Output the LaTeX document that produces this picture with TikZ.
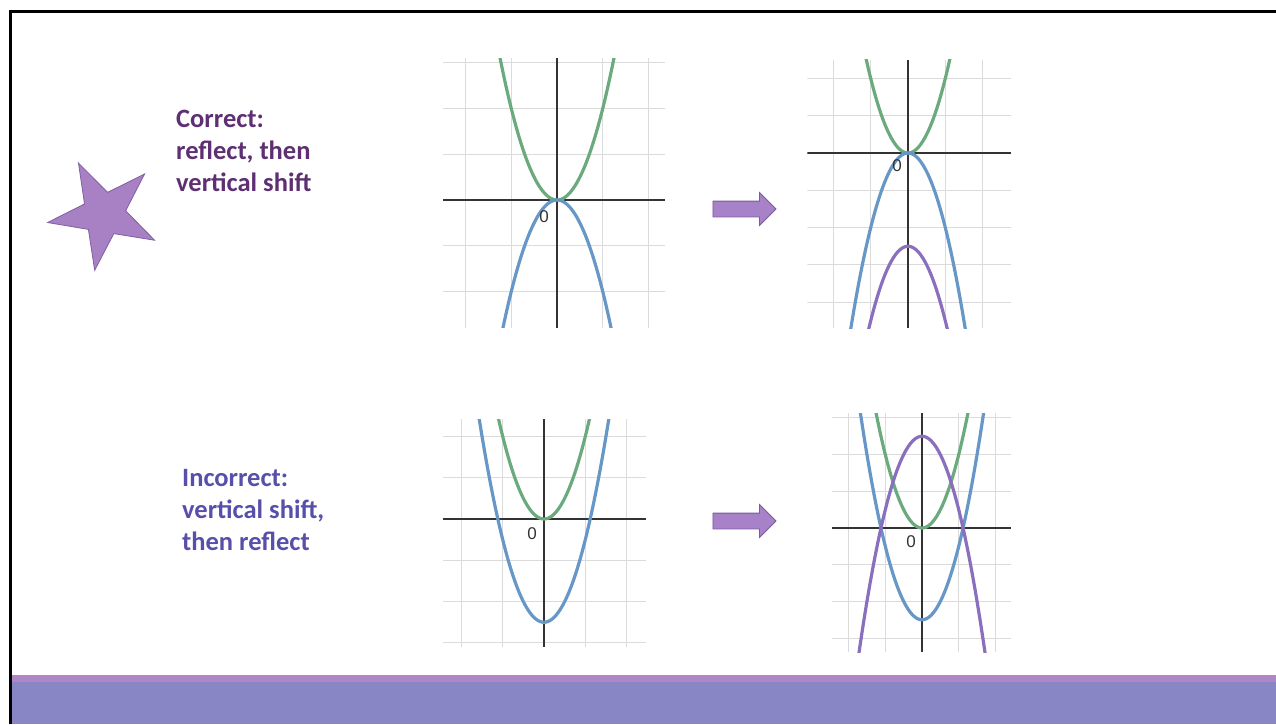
\documentclass[tikz,border=0pt]{standalone}
\usepackage{fontspec}
\setmainfont{Carlito}
\newfontfamily\axisfont{Liberation Sans}
\usetikzlibrary{shapes.geometric, shapes.arrows, positioning}

\definecolor{curvegreen}{HTML}{6BAA7C}
\definecolor{curveblue}{HTML}{6797C6}
\definecolor{curvepurple}{HTML}{8B6FBF}
\definecolor{axisgray}{HTML}{333333}
\definecolor{starfill}{HTML}{A781C4}
\definecolor{staredge}{HTML}{7F5F9F}
\definecolor{arrowfill}{HTML}{A882C8}
\definecolor{arrowedge}{HTML}{7A5A99}
\definecolor{correctpurple}{HTML}{5E2F72}
\definecolor{incorrectblue}{HTML}{584FAA}
\definecolor{bandtop}{HTML}{AF86C6}
\definecolor{bandmain}{HTML}{8986C6}

\begin{document}
\begin{tikzpicture}[
  x=1pt, y=-1pt,
  gridline/.style={draw=gray!28, line width=1pt},
  axisline/.style={draw=axisgray, line width=2.2pt},
  graphcurve/.style={line width=3.2pt, smooth, samples=80},
  notetext/.style={font=\bfseries\fontsize{26.5}{32}\selectfont, align=left, anchor=north west, inner sep=0pt},
  blockarrow/.style={single arrow, draw=arrowedge, fill=arrowfill, line width=0.8pt, minimum height=63pt, inner xsep=0pt, inner ysep=7.5pt, single arrow head extend=8.5pt},
  zerolabel/.style={font=\axisfont\fontsize{17}{17}\selectfont, text=axisgray, inner sep=0pt}
]
\useasboundingbox (0,0) rectangle (1276,724);

% slide frame and footer band
\draw[black, line width=3pt] (10.5,724) -- (10.5,11) -- (1276,11);
\fill[bandtop] (12,675) rectangle (1276,682);
\fill[bandmain] (12,682) rectangle (1276,724);

% star and captions
\node[star, star points=5, star point ratio=2.6, minimum size=114pt, inner sep=0pt,
      shape border rotate=26.6, fill=starfill, draw=staredge, line width=0.8pt] (star) at (104,214) {};
\node[notetext, text=correctpurple] (correct) at (176,110) {Correct:\\reflect, then\\vertical shift};
\node[notetext, text=incorrectblue] (incorrect) at (182,469) {Incorrect:\\vertical shift,\\then reflect};

% graph 1: y=x^2 reflected
\begin{scope}[shift={(557,200)}, x=45.7pt, y=45.7pt]
  \clip (-2.5,-2.8) rectangle (2.36,3.1);
  \foreach \i in {-2,...,2} \draw[gridline] (\i,-2.8) -- (\i,3.1);
  \foreach \j in {-2,...,3} \draw[gridline] (-2.5,\j) -- (2.36,\j);
  \draw[axisline] (-2.5,0) -- (2.36,0);
  \draw[axisline] (0,-2.8) -- (0,3.1);
  \draw[graphcurve, curvegreen] plot[domain=-1.5:1.5] (\x,{2*\x*\x});
  \draw[graphcurve, curveblue] plot[domain=-1.5:1.5] (\x,{-2*\x*\x});
\end{scope}

% graph 2: then shifted down
\begin{scope}[shift={(908,153)}, x=37.3pt, y=37.3pt]
  \clip (-2.7,-4.7) rectangle (2.76,2.5);
  \foreach \i in {-2,...,2} \draw[gridline] (\i,-4.7) -- (\i,2.5);
  \foreach \j in {-4,...,2} \draw[gridline] (-2.7,\j) -- (2.76,\j);
  \draw[axisline] (-2.7,0) -- (2.76,0);
  \draw[axisline] (0,-4.7) -- (0,2.5);
  \draw[graphcurve, curvegreen] plot[domain=-1.7:1.7] (\x,{2*\x*\x});
  \draw[graphcurve, curveblue] plot[domain=-1.7:1.7] (\x,{-2*\x*\x});
  \draw[graphcurve, curvepurple] plot[domain=-1.7:1.7] (\x,{-2*\x*\x-2.5});
\end{scope}

% graph 3: shifted down first
\begin{scope}[shift={(544,519)}, x=41.3pt, y=41.3pt]
  \clip (-2.45,-3.1) rectangle (2.47,2.42);
  \foreach \i in {-2,...,2} \draw[gridline] (\i,-3.1) -- (\i,2.42);
  \foreach \j in {-3,...,2} \draw[gridline] (-2.45,\j) -- (2.47,\j);
  \draw[axisline] (-2.45,0) -- (2.47,0);
  \draw[axisline] (0,-3.1) -- (0,2.42);
  \draw[graphcurve, curvegreen] plot[domain=-1.8:1.8] (\x,{2*\x*\x});
  \draw[graphcurve, curveblue] plot[domain=-1.8:1.8] (\x,{2*\x*\x-2.5});
\end{scope}

% graph 4: then reflected
\begin{scope}[shift={(922,528)}, x=36.7pt, y=36.7pt]
  \clip (-2.45,-3.38) rectangle (2.43,3.13);
  \foreach \i in {-2,...,2} \draw[gridline] (\i,-3.38) -- (\i,3.13);
  \foreach \j in {-3,...,3} \draw[gridline] (-2.45,\j) -- (2.43,\j);
  \draw[axisline] (-2.45,0) -- (2.43,0);
  \draw[axisline] (0,-3.38) -- (0,3.13);
  \draw[graphcurve, curvegreen] plot[domain=-1.9:1.9] (\x,{2*\x*\x});
  \draw[graphcurve, curveblue] plot[domain=-1.9:1.9] (\x,{2*\x*\x-2.5});
  \draw[graphcurve, curvepurple] plot[domain=-1.9:1.9] (\x,{-2*\x*\x+2.5});
\end{scope}

% origin labels
\node[zerolabel] (zeroA) at (544,217) {0};
\node[zerolabel] (zeroB) at (897,166) {0};
\node[zerolabel] (zeroC) at (532,534) {0};
\node[zerolabel] (zeroD) at (911,542) {0};

% block arrows between graphs
\node[blockarrow] (arrowtop) at (740.5,209) {};
\node[blockarrow] (arrowbottom) at (740.5,521) {};

\end{tikzpicture}
\end{document}
